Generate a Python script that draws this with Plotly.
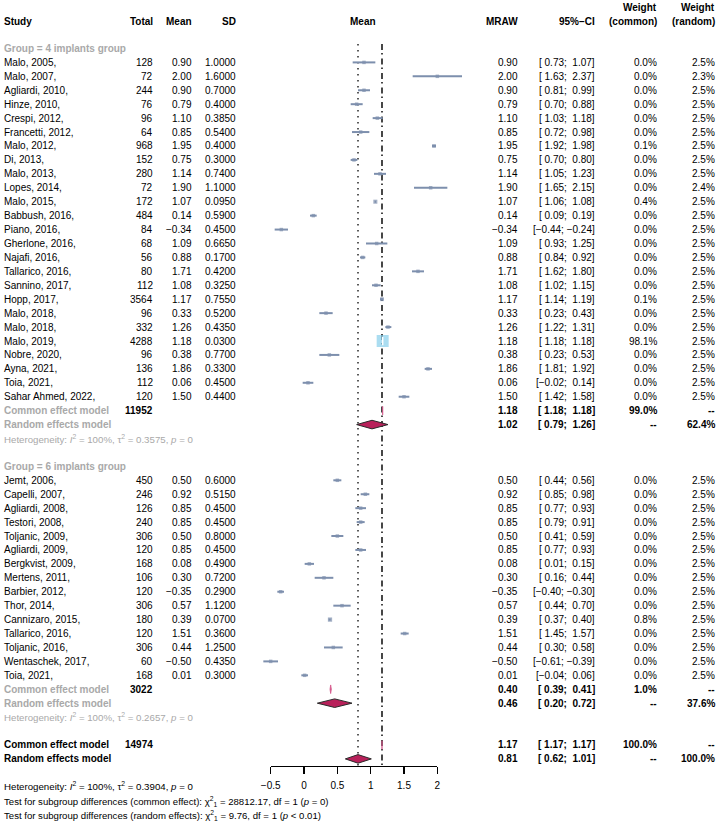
import plotly.graph_objects as go

FONT = "Liberation Sans, Arial, Helvetica, sans-serif"
GRAY = "#A9A9A9"
SLATE = "#7D8FAD"
SKY = "#87CEEB"
DIAMOND = "#B8205A"
COMMON_COL = "#D4578A"

# ---------------- data: group 4 implants ----------------
g4_study = ["Malo, 2005,", "Malo, 2007,", "Agliardi, 2010,", "Hinze, 2010,", "Crespi, 2012,",
            "Francetti, 2012,", "Malo, 2012,", "Di, 2013,", "Malo, 2013,", "Lopes, 2014,",
            "Malo, 2015,", "Babbush, 2016,", "Piano, 2016,", "Gherlone, 2016,", "Najafi, 2016,",
            "Tallarico, 2016,", "Sannino, 2017,", "Hopp, 2017,", "Malo, 2018,", "Malo, 2018,",
            "Malo, 2019,", "Nobre, 2020,", "Ayna, 2021,", "Toia, 2021,", "Sahar Ahmed, 2022,"]
g4_total = [128, 72, 244, 76, 96, 64, 968, 152, 280, 72, 172, 484, 84, 68, 56, 80, 112, 3564,
            96, 332, 4288, 96, 136, 112, 120]
g4_mean = [0.90, 2.00, 0.90, 0.79, 1.10, 0.85, 1.95, 0.75, 1.14, 1.90, 1.07, 0.14, -0.34, 1.09,
           0.88, 1.71, 1.08, 1.17, 0.33, 1.26, 1.18, 0.38, 1.86, 0.06, 1.50]
g4_sd = [1.0000, 1.6000, 0.7000, 0.4000, 0.3850, 0.5400, 0.4000, 0.3000, 0.7400, 1.1000,
         0.0950, 0.5900, 0.4500, 0.6650, 0.1700, 0.4200, 0.3250, 0.7550, 0.5200, 0.4350,
         0.0300, 0.7700, 0.3300, 0.4500, 0.4400]
g4_lo = [0.73, 1.63, 0.81, 0.70, 1.03, 0.72, 1.92, 0.70, 1.05, 1.65, 1.06, 0.09, -0.44, 0.93,
         0.84, 1.62, 1.02, 1.14, 0.23, 1.22, 1.18, 0.23, 1.81, -0.02, 1.42]
g4_hi = [1.07, 2.37, 0.99, 0.88, 1.18, 0.98, 1.98, 0.80, 1.23, 2.15, 1.08, 0.19, -0.24, 1.25,
         0.92, 1.80, 1.15, 1.19, 0.43, 1.31, 1.18, 0.53, 1.92, 0.14, 1.58]
g4_wc = [0.0, 0.0, 0.0, 0.0, 0.0, 0.0, 0.1, 0.0, 0.0, 0.0, 0.4, 0.0, 0.0, 0.0, 0.0, 0.0, 0.0,
         0.1, 0.0, 0.0, 98.1, 0.0, 0.0, 0.0, 0.0]
g4_wr = [2.5, 2.3, 2.5, 2.5, 2.5, 2.5, 2.5, 2.5, 2.5, 2.4, 2.5, 2.5, 2.5, 2.5, 2.5, 2.5, 2.5,
         2.5, 2.5, 2.5, 2.5, 2.5, 2.5, 2.5, 2.5]
g4_common = [1.18, 1.18, 1.18]      # est, lo, hi
g4_random = [1.02, 0.79, 1.26]
g4_common_total = 11952
g4_common_w = 99.0
g4_random_w = 62.4
g4_tau2 = "0.3575"

# ---------------- data: group 6 implants ----------------
g6_study = ["Jemt, 2006,", "Capelli, 2007,", "Agliardi, 2008,", "Testori, 2008,", "Toljanic, 2009,",
            "Agliardi, 2009,", "Bergkvist, 2009,", "Mertens, 2011,", "Barbier, 2012,", "Thor, 2014,",
            "Cannizaro, 2015,", "Tallarico, 2016,", "Toljanic, 2016,", "Wentaschek, 2017,", "Toia, 2021,"]
g6_total = [450, 246, 126, 240, 306, 120, 168, 106, 120, 306, 180, 120, 306, 60, 168]
g6_mean = [0.50, 0.92, 0.85, 0.85, 0.50, 0.85, 0.08, 0.30, -0.35, 0.57, 0.39, 1.51, 0.44, -0.50, 0.01]
g6_sd = [0.6000, 0.5150, 0.4500, 0.4500, 0.8000, 0.4500, 0.4900, 0.7200, 0.2900, 1.1200,
         0.0700, 0.3600, 1.2500, 0.4350, 0.3000]
g6_lo = [0.44, 0.85, 0.77, 0.79, 0.41, 0.77, 0.01, 0.16, -0.40, 0.44, 0.37, 1.45, 0.30, -0.61, -0.04]
g6_hi = [0.56, 0.98, 0.93, 0.91, 0.59, 0.93, 0.15, 0.44, -0.30, 0.70, 0.40, 1.57, 0.58, -0.39, 0.06]
g6_wc = [0.0, 0.0, 0.0, 0.0, 0.0, 0.0, 0.0, 0.0, 0.0, 0.0, 0.8, 0.0, 0.0, 0.0, 0.0]
g6_wr = [2.5] * 15
g6_common = [0.40, 0.39, 0.41]
g6_random = [0.46, 0.20, 0.72]
g6_common_total = 3022
g6_common_w = 1.0
g6_random_w = 37.6
g6_tau2 = "0.2657"

# ---------------- overall ----------------
all_common = [1.17, 1.17, 1.17]
all_random = [0.81, 0.62, 1.01]
all_common_total = 14974
all_tau2 = "0.3904"

tick_vals = [-0.5, 0, 0.5, 1, 1.5, 2]
tick_text = ["\u22120.5", "0", "0.5", "1", "1.5", "2"]

# ---------------- layout geometry (pixels) ----------------
W, H = 719, 825
ROW0_PX, ROW_H = 62.4, 13.93
X0_PX, UNIT_PX = 304.0, 66.67


def row_of(px):
    return (px - ROW0_PX) / ROW_H


y_range = [row_of(H), row_of(0)]
x_range = [(0 - X0_PX) / UNIT_PX, (W - X0_PX) / UNIT_PX]

COL = dict(study=2, total=155, mean=194, sd=238, fmean=363, mraw=519.5,
           ci=596.5, wc=659, wr=717)

# rows
g4_rows = list(range(0, len(g4_study)))
r_g4_common = len(g4_study)
r_g4_random = r_g4_common + 1
r_g4_het = r_g4_common + 2
r_g6_label = r_g4_het + 2
g6_rows = [r_g6_label + 1 + i for i in range(len(g6_study))]
r_g6_common = g6_rows[-1] + 1
r_g6_random = r_g6_common + 1
r_g6_het = r_g6_common + 2
r_all_common = r_g6_het + 2
r_all_random = r_all_common + 1


def num(v, d=2):
    return f"{v:.{d}f}".replace("-", "\u2212")


def ci_str(lo, hi):
    s = "[" + f"{lo:5.2f}" + "; " + f"{hi:5.2f}" + "]"
    return s.replace("-", "\u2212").replace(" ", "\u00a0")


annotations = []


def ann(text, px, row, anchor="right", color="black", size=10, bold=False):
    if bold:
        text = "<b>" + text + "</b>"
    annotations.append(dict(
        text=text, x=px / W, xref="paper", y=row, yref="y",
        xanchor=anchor, yanchor="middle", showarrow=False,
        font=dict(family=FONT, size=size, color=color)))


# header
hr = row_of(21)
ann("Study", COL["study"], hr, "left", bold=True)
ann("Total", COL["total"], hr, bold=True)
ann("Mean", COL["mean"], hr, bold=True)
ann("SD", COL["sd"], hr, bold=True)
ann("Mean", COL["fmean"], hr, "center", bold=True)
ann("MRAW", COL["mraw"], hr, bold=True)
ann("95%\u2212CI", COL["ci"], hr, bold=True)
ann("(common)", COL["wc"], hr, bold=True)
ann("(random)", COL["wr"], hr, bold=True)
ann("Weight", COL["wc"], hr - 1, bold=True)
ann("Weight", COL["wr"], hr - 1, bold=True)


def study_rows(rows, study, total, mean, sd, lo, hi, wc, wr):
    for i, r in enumerate(rows):
        ann(study[i], COL["study"], r, "left")
        ann(str(total[i]), COL["total"], r)
        ann(num(mean[i]), COL["mean"], r)
        ann(num(sd[i], 4), COL["sd"], r)
        ann(num(mean[i]), COL["mraw"], r)
        ann(ci_str(lo[i], hi[i]), COL["ci"], r)
        ann(f"{wc[i]:.1f}%", COL["wc"], r)
        ann(f"{wr[i]:.1f}%", COL["wr"], r)


def summary_rows(rc, rr, common, random, ctotal, cw, rw, label_color):
    ann("Common effect model", COL["study"], rc, "left", color=label_color, bold=True)
    ann(str(ctotal), COL["total"], rc, bold=True)
    ann(num(common[0]), COL["mraw"], rc, bold=True)
    ann(ci_str(common[1], common[2]), COL["ci"], rc, bold=True)
    ann(f"{cw:.1f}%", COL["wc"], rc, bold=True)
    ann("--", COL["wr"], rc, bold=True)
    ann("Random effects model", COL["study"], rr, "left", color=label_color, bold=True)
    ann(num(random[0]), COL["mraw"], rr, bold=True)
    ann(ci_str(random[1], random[2]), COL["ci"], rr, bold=True)
    ann("--", COL["wc"], rr, bold=True)
    ann(f"{rw:.1f}%", COL["wr"], rr, bold=True)


def het(tau2):
    return ("Heterogeneity: <i>I</i><sup>2</sup> = 100%, \u03c4<sup>2</sup> = " + tau2 +
            ", <i>p</i> = 0")


ann("Group = 4 implants group", COL["study"], -1, "left", color=GRAY, bold=True)
study_rows(g4_rows, g4_study, g4_total, g4_mean, g4_sd, g4_lo, g4_hi, g4_wc, g4_wr)
summary_rows(r_g4_common, r_g4_random, g4_common, g4_random, g4_common_total,
             g4_common_w, g4_random_w, GRAY)
ann(het(g4_tau2), COL["study"], r_g4_het, "left", color=GRAY, size=9.7)

ann("Group = 6 implants group", COL["study"], r_g6_label, "left", color=GRAY, bold=True)
study_rows(g6_rows, g6_study, g6_total, g6_mean, g6_sd, g6_lo, g6_hi, g6_wc, g6_wr)
summary_rows(r_g6_common, r_g6_random, g6_common, g6_random, g6_common_total,
             g6_common_w, g6_random_w, GRAY)
ann(het(g6_tau2), COL["study"], r_g6_het, "left", color=GRAY, size=9.7)

summary_rows(r_all_common, r_all_random, all_common, all_random, all_common_total,
             100.0, 100.0, "black")

ann(het(all_tau2), COL["study"], row_of(786), "left", size=9.7)
ann("Test for subgroup differences (common effect): \u03c7<sup>2</sup><sub>1</sub> = 28812.17, df = 1 (<i>p</i> = 0)",
    COL["study"], row_of(801.5), "left", size=9.6)
ann("Test for subgroup differences (random effects): \u03c7<sup>2</sup><sub>1</sub> = 9.76, df = 1 (<i>p</i> &lt; 0.01)",
    COL["study"], row_of(815.5), "left", size=9.6)

# ---------------- forest marks ----------------
all_rows = g4_rows + g6_rows
all_mean = g4_mean + g6_mean
all_lo = g4_lo + g6_lo
all_hi = g4_hi + g6_hi
all_wc = g4_wc + g6_wc
wmax = max(all_wc)
sizes = [3.5 + 8.5 * (w / wmax) ** 0.5 for w in all_wc]
colors = [SKY if s > 6 else SLATE for s in sizes]

fig = go.Figure()

# reference lines
y_top, y_axis = row_of(44), row_of(765.7)
shapes = [
    dict(type="line", xref="x", yref="y", x0=all_random[0], x1=all_random[0], y0=y_top, y1=y_axis,
         line=dict(color="#333333", width=1.6, dash="1.5px,4.5px"), layer="below"),
    dict(type="line", xref="x", yref="y", x0=all_common[0], x1=all_common[0], y0=y_top, y1=y_axis,
         line=dict(color="#333333", width=1.8, dash="6px,3px,1.5px,4px"), layer="below"),
]

fig.add_trace(go.Scatter(x=all_mean, y=all_rows, mode="markers",
                         marker=dict(symbol="square", size=sizes, color=colors, line=dict(width=0)),
                         hoverinfo="skip", showlegend=False))
cx, cy = [], []
for m, lo, hi, r in zip(all_mean, all_lo, all_hi, all_rows):
    cx += [lo, hi, None]
    cy += [r, r, None]
fig.add_trace(go.Scatter(x=cx, y=cy, mode="lines", line=dict(color=SLATE, width=2),
                         hoverinfo="skip", showlegend=False))
big_x = [m for m, s in zip(all_mean, sizes) if s > 6]
big_y = [r for r, s in zip(all_rows, sizes) if s > 6]
fig.add_trace(go.Scatter(x=big_x, y=big_y, mode="markers",
                         marker=dict(symbol="line-ns", size=6, line=dict(color="white", width=1.5)),
                         hoverinfo="skip", showlegend=False))

HALF = 4.3 / ROW_H


def diamond(est, lo, hi, r, fill, outline, width):
    fig.add_trace(go.Scatter(
        x=[lo, est, hi, est, lo], y=[r, r - HALF, r, r + HALF, r],
        mode="lines", fill="toself", fillcolor=fill,
        line=dict(color=outline, width=width), hoverinfo="skip", showlegend=False))


for est, r in [(g4_common, r_g4_common), (g6_common, r_g6_common), (all_common, r_all_common)]:
    diamond(est[0], est[1], est[2], r, COMMON_COL, COMMON_COL, 0.8)
for est, r in [(g4_random, r_g4_random), (g6_random, r_g6_random), (all_random, r_all_random)]:
    diamond(est[0], est[1], est[2], r, DIAMOND, "#2a2a2a", 1)

# dummy trace for bottom axis
fig.add_trace(go.Scatter(x=[None], y=[None], xaxis="x2", yaxis="y", showlegend=False))

fig.update_layout(
    width=W, height=H, margin=dict(l=0, r=0, t=0, b=0, pad=0, autoexpand=False),
    paper_bgcolor="white", plot_bgcolor="rgba(0,0,0,0)",
    xaxis=dict(range=x_range, visible=False, domain=[0, 1], fixedrange=True),
    yaxis=dict(range=y_range, visible=False, domain=[0, 1], fixedrange=True),
    xaxis2=dict(domain=[(X0_PX - 0.5 * UNIT_PX) / W, (X0_PX + 2 * UNIT_PX) / W],
                range=[-0.5, 2], anchor="free", position=1 - 765.7 / H, side="bottom",
                showline=True, linecolor="black", linewidth=1.2, ticks="outside",
                ticklen=7, tickwidth=1.2, tickcolor="black", tickvals=tick_vals,
                ticktext=tick_text, tickfont=dict(family=FONT, size=10, color="black"),
                showgrid=False, zeroline=False, ticklabelstandoff=3, fixedrange=True),
    shapes=shapes, annotations=annotations, showlegend=False,
    font=dict(family=FONT, size=10),
)

fig.write_html("out.html", config={"displayModeBar": False, "staticPlot": True},
               post_script="document.body.style.margin='0';document.body.style.padding='0';")
